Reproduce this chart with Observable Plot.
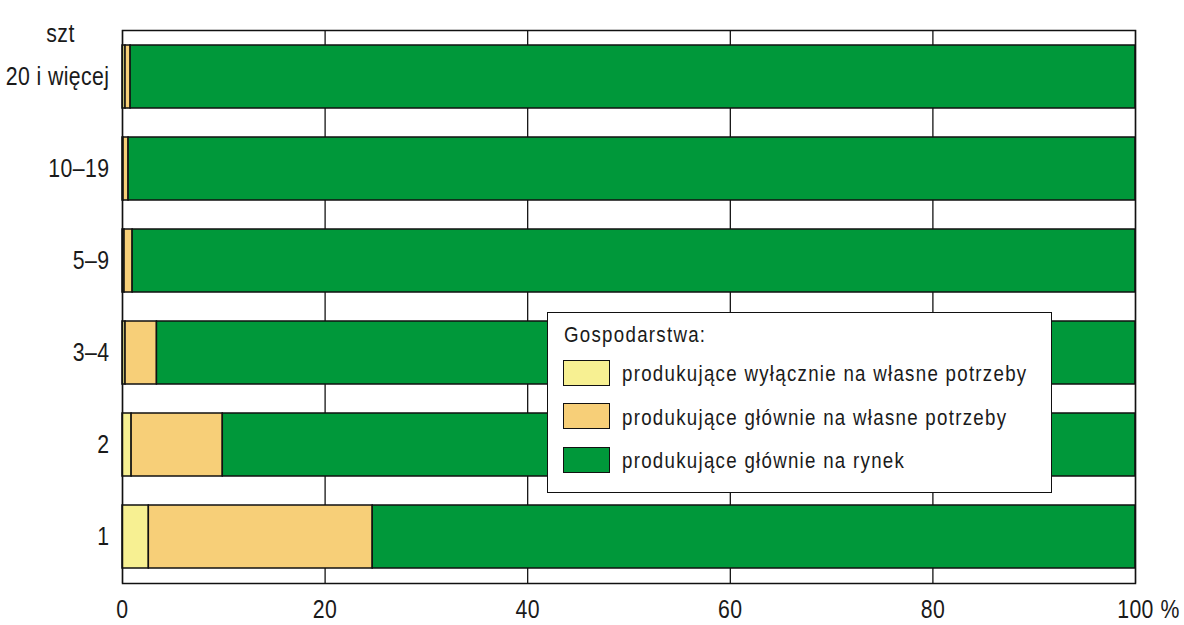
<!DOCTYPE html>
<html>
<head>
<meta charset="utf-8">
<script src="https://cdn.jsdelivr.net/npm/d3@7"></script>
<script src="https://cdn.jsdelivr.net/npm/@observablehq/plot@0.6"></script>
<style>
  body { margin: 0; background: #fff; }
  #wrap { position: relative; width: 1184px; height: 625px; font-family: "Liberation Sans", Arial, sans-serif; }
  #legend { position: absolute; left: 547px; top: 312px; width: 503px; height: 179px; border: 1.5px solid #111; background: #fff; color: #1a1a1a; font-size: 22px; line-height: 22px; letter-spacing: 1.5px; }
  #legend .title { position: absolute; left: 16px; top: 11px; white-space: nowrap; transform: scaleX(0.85); transform-origin: 0 0; }
  #legend .item { position: absolute; left: 14.5px; height: 27px; }
  #legend .sw { position: absolute; left: 0; top: 0; width: 45px; height: 24px; border: 1.5px solid #111; }
  #legend .lab { position: absolute; left: 59px; top: 3.5px; white-space: nowrap; transform: scaleX(0.85); transform-origin: 0 0; }
</style>
</head>
<body>
<div id="wrap"></div>
<script>
const categories = ["20 i więcej", "10–19", "5–9", "3–4", "2", "1"];
const seriesNames = [
  "produkujące wyłącznie na własne potrzeby",
  "produkujące głównie na własne potrzeby",
  "produkujące głównie na rynek"
];
const colors = ["#f7f092", "#f7cf78", "#00983a"];
const wylacznieWlasne = [0.3, 0.1, 0.2, 0.3, 0.9, 2.6];
const glownieWlasne   = [0.5, 0.5, 0.8, 3.1, 9.0, 22.1];
const glownieRynek    = [99.2, 99.4, 99.0, 96.6, 90.1, 75.3];
const xTicks = [0, 20, 40, 60, 80, 100];

const seriesValues = [wylacznieWlasne, glownieWlasne, glownieRynek];
const data = [];
categories.forEach((c, i) => {
  seriesValues.forEach((vals, s) => {
    data.push({category: c, series: seriesNames[s], value: vals[i]});
  });
});

const font = `"Liberation Sans", Arial, sans-serif`;

const chart = Plot.plot({
  width: 1184,
  height: 625,
  marginLeft: 122,
  marginRight: 49,
  marginTop: 30,
  marginBottom: 42,
  style: {fontFamily: font, fontSize: "25px", color: "#1a1a1a", background: "#fff", letterSpacing: "0.5px"},
  x: {domain: [0, 100], ticks: xTicks, label: null},
  y: {domain: categories, paddingInner: 0.31, paddingOuter: 0.14, label: null},
  color: {domain: seriesNames, range: colors},
  marks: [
    Plot.gridX(xTicks, {stroke: "#000", strokeOpacity: 1, strokeWidth: 1.2}),
    Plot.barX(data, Plot.stackX({
      x: "value", y: "category", fill: "series", order: null,
      stroke: "#111", strokeWidth: 1.5
    })),
    Plot.frame({stroke: "#111", strokeWidth: 1.5}),
    Plot.axisX(xTicks, {tickSize: 0, tickPadding: 17, fontSize: 25, fill: "#1a1a1a", label: null,
      tickFormat: d => String(d)}),
    Plot.text(["%"], {x: () => 100, frameAnchor: "bottom", lineAnchor: "top", dy: 17, dx: 25, fontSize: 25, textAnchor: "start", fill: "#1a1a1a"}),
    Plot.axisY({tickSize: 0, tickPadding: 13, fontSize: 25, fill: "#1a1a1a", label: null}),
    Plot.text(["szt"], {frameAnchor: "top-left", dx: -62, dy: -6, fontSize: 25, textAnchor: "middle", fill: "#1a1a1a"})
  ]
});

// condense all texts horizontally around their anchor point (narrow typeface look)
chart.querySelectorAll("text").forEach(t => {
  const tr = t.getAttribute("transform") || "";
  t.setAttribute("transform", (tr + " scale(0.85,1)").trim());
});

const wrap = document.getElementById("wrap");
wrap.appendChild(chart);

const legend = document.createElement("div");
legend.id = "legend";
const title = document.createElement("div");
title.className = "title";
title.textContent = "Gospodarstwa:";
legend.appendChild(title);
seriesNames.forEach((name, i) => {
  const item = document.createElement("div");
  item.className = "item";
  item.style.top = (46.5 + i * 43.5) + "px";
  const sw = document.createElement("div");
  sw.className = "sw";
  sw.style.background = colors[i];
  const lab = document.createElement("div");
  lab.className = "lab";
  lab.textContent = name;
  item.appendChild(sw);
  item.appendChild(lab);
  legend.appendChild(item);
});
wrap.appendChild(legend);
</script>
</body>
</html>
